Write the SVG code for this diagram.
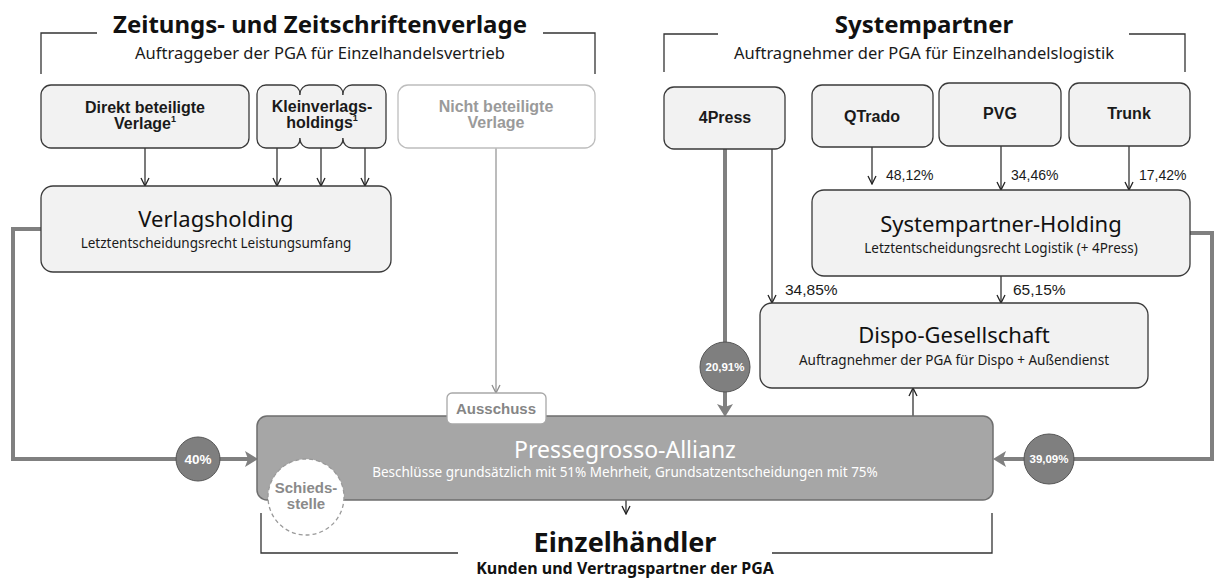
<svg xmlns="http://www.w3.org/2000/svg" width="1214" height="579" viewBox="0 0 1214 579">
<style>
  .box{fill:#f2f2f2;stroke:#3a3a3a;stroke-width:1.3}
  .ghost{fill:#ffffff;stroke:#bdbdbd;stroke-width:1.3}
  .bracket{fill:none;stroke:#333;stroke-width:1.3}
  .thin{fill:none;stroke:#222;stroke-width:1.2;marker-end:url(#a)}
  .thingrey{fill:none;stroke:#8f8f8f;stroke-width:1.2;marker-end:url(#ag)}
  .thick{fill:none;stroke:#808080;stroke-width:4;marker-end:url(#at)}
  .pct{fill:#7f7f7f;stroke:#555;stroke-width:1}
  .h1{font-family:"Noto Sans",sans-serif;font-weight:700;font-size:24px;fill:#111;text-anchor:middle}
  .h2{font-family:"Noto Sans",sans-serif;font-size:16.5px;fill:#1a1a1a;text-anchor:middle}
  .bl{font-family:"Liberation Sans",Arial,sans-serif;font-weight:700;font-size:16px;fill:#1a1a1a;text-anchor:middle}
  .bt{font-family:"Noto Sans",sans-serif;font-size:22px;fill:#111;text-anchor:middle}
  .bs{font-family:"Noto Sans",sans-serif;font-size:13.5px;fill:#1a1a1a;text-anchor:middle}
  .lab{font-family:"Liberation Sans",Arial,sans-serif;font-size:14px;fill:#1a1a1a}
  .cl{font-family:"Liberation Sans",Arial,sans-serif;font-weight:700;font-size:11.5px;fill:#fff;text-anchor:middle}
  .grey{fill:#8a8a8a}
</style>
<defs>
  <marker id="a" viewBox="0 0 10 10" refX="9" refY="5" markerWidth="10" markerHeight="10" markerUnits="userSpaceOnUse" orient="auto">
    <path d="M1,1 L9,5 L1,9" fill="none" stroke="#222" stroke-width="1.3"/>
  </marker>
  <marker id="ag" viewBox="0 0 10 10" refX="9" refY="5" markerWidth="10" markerHeight="10" markerUnits="userSpaceOnUse" orient="auto">
    <path d="M1,1 L9,5 L1,9" fill="none" stroke="#8f8f8f" stroke-width="1.3"/>
  </marker>
  <marker id="at" viewBox="0 0 14 18" refX="6" refY="9" markerWidth="14" markerHeight="18" markerUnits="userSpaceOnUse" orient="auto">
    <path d="M0,1 L13,9 L0,17 L3,9 Z" fill="#808080"/>
  </marker>
</defs>

<g id="headers">
  <path class="bracket" d="M41,74 V33 H97 M543,33 H595 V74"/>
  <text class="h1" x="320" y="33">Zeitungs- und Zeitschriftenverlage</text>
  <text class="h2" x="320" y="59">Auftraggeber der PGA für Einzelhandelsvertrieb</text>
  <path class="bracket" d="M664,72 V34 H718 M1129,34 H1185 V72"/>
  <text class="h1" x="924" y="33">Systempartner</text>
  <text class="h2" x="924" y="59">Auftragnehmer der PGA für Einzelhandelslogistik</text>
  <path class="bracket" d="M261,513 V553 H458 M772,553 H992 V513"/>
</g>

<g id="connectors">
  <path class="thick" d="M41,229 H13 V459 H251"/>
  <path class="thick" d="M1190,233 H1212 V459 H1000"/>
  <path class="thick" d="M725,149 V410"/>
  <path class="thin" d="M145,148 V186"/>
  <path class="thin" d="M277,148 V186"/>
  <path class="thin" d="M321,148 V186"/>
  <path class="thin" d="M365,148 V186"/>
  <path class="thingrey" d="M496,148 V393"/>
  <path class="thin" d="M872,147 V184"/>
  <path class="thin" d="M1001,146 V190"/>
  <path class="thin" d="M1129,146 V190"/>
  <path class="thin" d="M772,149 V303"/>
  <path class="thin" d="M1001,276 V303"/>
  <path class="thin" d="M913,416 V388"/>
  <path class="thin" d="M626,500 V514"/>
  <text class="lab" x="886" y="180">48,12%</text>
  <text class="lab" x="1011" y="180">34,46%</text>
  <text class="lab" x="1139" y="180">17,42%</text>
  <text class="lab" x="785" y="295" style="font-size:15.5px">34,85%</text>
  <text class="lab" x="1013" y="295" style="font-size:15.5px">65,15%</text>
  <circle class="pct" cx="198" cy="459" r="22"/>
  <text class="cl" x="198" y="464" style="font-size:13.5px">40%</text>
  <circle class="pct" cx="725" cy="367" r="25"/>
  <text class="cl" x="725" y="371">20,91%</text>
  <circle class="pct" cx="1049" cy="459" r="25"/>
  <text class="cl" x="1049" y="463">39,09%</text>
</g>

<g id="direkt">
  <rect class="box" x="41" y="85" width="208" height="63" rx="10"/>
  <text class="bl" x="145" y="113">Direkt beteiligte</text>
  <text class="bl" x="145" y="129">Verlage<tspan font-size="9" dy="-7">1</tspan></text>
</g>

<g id="kleinverlage">
  <rect class="box" x="257" y="85" width="43" height="63" rx="9"/>
  <rect class="box" x="300" y="85" width="43" height="63" rx="9"/>
  <rect class="box" x="343" y="85" width="43" height="63" rx="9"/>
  <rect x="262" y="95" width="119" height="43" fill="#f2f2f2"/>
  <text class="bl" x="322" y="112">Kleinverlags-</text>
  <text class="bl" x="322" y="128">holdings<tspan font-size="9" dy="-7">1</tspan></text>
</g>

<g id="nicht">
  <rect class="ghost" x="398" y="85" width="197" height="63" rx="10"/>
  <text class="bl grey" x="496" y="112" style="fill:#9a9a9a">Nicht beteiligte</text>
  <text class="bl grey" x="496" y="128" style="fill:#9a9a9a">Verlage</text>
</g>

<g id="verlagsholding">
  <rect class="box" x="41" y="186" width="350" height="86" rx="12"/>
  <text class="bt" x="216" y="227">Verlagsholding</text>
  <text class="bs" x="216" y="248">Letztentscheidungsrecht Leistungsumfang</text>
</g>

<g id="press4">
  <rect class="box" x="664" y="87" width="121" height="62" rx="10"/>
  <text class="bl" x="725" y="123">4Press</text>
</g>
<g id="qtrado">
  <rect class="box" x="812" y="85" width="121" height="62" rx="10"/>
  <text class="bl" x="872" y="122">QTrado</text>
</g>
<g id="pvg">
  <rect class="box" x="939" y="83" width="122" height="63" rx="10"/>
  <text class="bl" x="1000" y="119">PVG</text>
</g>
<g id="trunk">
  <rect class="box" x="1069" y="83" width="121" height="63" rx="10"/>
  <text class="bl" x="1129" y="119">Trunk</text>
</g>

<g id="systempartner-holding">
  <rect class="box" x="812" y="190" width="378" height="86" rx="12"/>
  <text class="bt" x="1001" y="232">Systempartner-Holding</text>
  <text class="bs" x="1001" y="253">Letztentscheidungsrecht Logistik (+ 4Press)</text>
</g>

<g id="dispo">
  <rect class="box" x="760" y="303" width="388" height="85" rx="12"/>
  <text class="bt" x="954" y="343">Dispo-Gesellschaft</text>
  <text class="bs" x="954" y="365">Auftragnehmer der PGA für Dispo + Außendienst</text>
</g>

<g id="pressegrosso">
  <rect x="257" y="416" width="736" height="84" rx="10" fill="#a6a6a6" stroke="#6e6e6e" stroke-width="1.5"/>
  <text class="bt" x="625" y="458" style="fill:#fff;font-size:23px">Pressegrosso-Allianz</text>
  <text class="bs" x="625" y="477" style="fill:#fff;font-size:13.5px">Beschlüsse grundsätzlich mit 51% Mehrheit, Grundsatzentscheidungen mit 75%</text>
</g>

<g id="ausschuss">
  <rect x="447" y="393" width="99" height="31" rx="5" fill="#fff" stroke="#a8a8a8" stroke-width="1.3"/>
  <text class="bl" x="496" y="414" style="fill:#858585;font-size:15px">Ausschuss</text>
</g>

<g id="schiedsstelle">
  <circle cx="306" cy="497" r="38" fill="#fff" stroke="#9a9a9a" stroke-width="1.3" stroke-dasharray="4 3"/>
  <text class="bl" x="306" y="493" style="fill:#8a8a8a;font-size:15px">Schieds-</text>
  <text class="bl" x="306" y="509" style="fill:#8a8a8a;font-size:15px">stelle</text>
</g>

<g id="einzelhaendler">
  <text class="h1" x="625" y="552" style="font-size:27px">Einzelhändler</text>
  <text class="h1" x="625" y="574" style="font-size:16px">Kunden und Vertragspartner der PGA</text>
</g>
</svg>
